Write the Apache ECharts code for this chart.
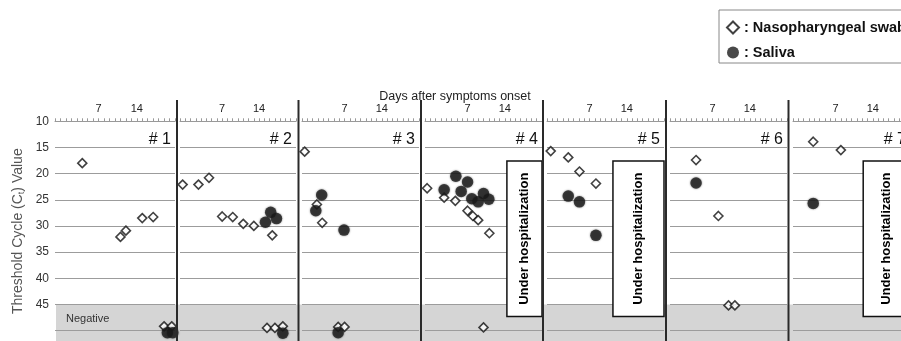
<!DOCTYPE html>
<html><head><meta charset="utf-8">
<script src="https://cdn.jsdelivr.net/npm/echarts@6/dist/echarts.min.js"></script>
<style>html,body{margin:0;padding:0;background:#fff;overflow:hidden}#c{width:930px;height:341px}</style>
</head><body><div id="c"></div>
<script>
// ---- data ----
const panelNames = ['# 1', '# 2', '# 3', '# 4', '# 5', '# 6', '# 7'];
const xTickLabels = [7, 14];
const yTickLabels = [10, 15, 20, 25, 30, 35, 40, 45];
const seriesNames = ['Nasopharyngeal swab', 'Saliva'];

// [day after onset, Ct]; values >= 45 are negative results drawn in the "Negative" band
const swab1 = [[4, 18.0], [11, 32.1], [12, 30.9], [15, 28.5], [17, 28.3], [19, 49.2], [20.4, 49.2]];
const saliva1 = [[19.6, 50.4], [20.6, 50.4]];
const swab2 = [[-0.5, 22.1], [2.5, 22.1], [4.5, 20.8], [7, 28.2], [9, 28.3], [11, 29.6], [13, 30.0], [16.5, 31.8], [15.5, 49.5], [17, 49.5], [18.5, 49.2]];
const saliva2 = [[15.2, 29.3], [16.2, 27.4], [17.3, 28.6], [18.5, 50.5]];
const swab3 = [[-0.5, 15.8], [1.8, 25.9], [2.8, 29.4], [5.8, 49.3], [7, 49.3]];
const saliva3 = [[2.7, 24.1], [1.6, 27.1], [6.9, 30.8], [5.8, 50.4]];
const swab4 = [[-0.6, 22.8], [2.6, 24.6], [4.7, 25.2], [7, 27.1], [8, 28.1], [9, 28.9], [11.1, 31.4], [10, 49.4]];
const saliva4 = [[2.6, 23.1], [4.8, 20.5], [7, 21.6], [5.8, 23.4], [7.8, 24.8], [9, 25.4], [10, 23.8], [11, 24.9]];
const swab5 = [[-0.3, 15.7], [3, 16.9], [5.1, 19.6], [8.2, 21.9]];
const saliva5 = [[3, 24.3], [5.1, 25.4], [8.2, 31.8]];
const swab6 = [[3.9, 17.4], [8.1, 28.1], [10, 45.2], [11.2, 45.2]];
const saliva6 = [[3.9, 21.8]];
const swab7 = [[2.8, 13.9], [8, 15.5]];
const saliva7 = [[2.8, 25.7]];

// start day of the "Under hospitalization" period (null = none shown)
const hospStart = [null, null, null, 14.4, 11.4, null, 12.2];
const hospCt = [17.6, 47.3];
const negativeCutoff = 45;

// ---- layout ----
const swabs = [swab1, swab2, swab3, swab4, swab5, swab6, swab7];
const salivas = [saliva1, saliva2, saliva3, saliva4, saliva5, saliva6, saliva7];
const L = [55, 180, 302, 425, 547, 670, 793];
const W = [120, 116, 117, 117, 117, 117, 117];
const SEP = [177, 298.5, 421, 543, 666, 788.5];
const FONT = '"Liberation Sans", Arial, sans-serif';
const GRID_TOP = 121.3, Y_MIN = 10, Y_MAX = 52, PXU = 5.333;
const CW = 930;

const chart = echarts.init(document.getElementById('c'), null, {renderer: 'canvas'});

const grids = [], xAxes = [], yAxes = [], series = [];
panelNames.forEach((p, i) => {
  grids.push({left: L[i], top: GRID_TOP, width: W[i], height: (Y_MAX - Y_MIN) * PXU});
  xAxes.push({
    type: 'value', gridIndex: i, position: 'top', min: -1, max: 21, interval: 1,
    axisLine: {lineStyle: {color: '#999', width: 1}},
    axisTick: {length: 3, lineStyle: {color: '#999'}},
    axisLabel: {formatter: v => xTickLabels.includes(v) ? String(v) : '', fontSize: 11, color: '#222', margin: 7, fontFamily: FONT},
    splitLine: {show: false}
  });
  const ya = {
    type: 'value', gridIndex: i, inverse: true, min: Y_MIN, max: Y_MAX, interval: 5,
    axisLine: {show: false}, axisTick: {show: false},
    axisLabel: {show: i === 0, formatter: v => yTickLabels.includes(v) ? String(v) : '', fontSize: 12, color: '#333', margin: 6, fontFamily: FONT},
    splitLine: {lineStyle: {color: '#9c9c9c', width: 1}}
  };
  if (i === 0) {
    ya.name = '{a|Threshold Cycle (C}{s|t}{a|) Value}';
    ya.nameLocation = 'middle';
    ya.nameRotate = 90;
    ya.nameGap = 29;
    ya.nameTextStyle = {rich: {
      a: {fontSize: 14, color: '#555', fontFamily: FONT},
      s: {fontSize: 9, color: '#555', fontFamily: FONT, padding: [6, 0, 0, 0]}
    }};
  }
  yAxes.push(ya);
  const sw = {
    name: seriesNames[0], type: 'scatter', xAxisIndex: i, yAxisIndex: i, data: swabs[i],
    symbol: 'diamond', symbolSize: 9,
    itemStyle: {color: '#fff', borderColor: '#111', borderWidth: 1.6},
    z: 3
  };
  if (hospStart[i] !== null) {
    sw.markArea = {
      silent: true,
      itemStyle: {color: '#fff', borderColor: '#111', borderWidth: 1.5},
      label: {show: true, position: 'inside', rotate: 90, formatter: 'Under hospitalization',
        fontSize: 13, fontWeight: 'bold', color: '#000', fontFamily: FONT},
      data: [[{xAxis: hospStart[i], yAxis: hospCt[0]}, {xAxis: 21, yAxis: hospCt[1]}]]
    };
  }
  series.push(sw);
  series.push({
    name: seriesNames[1], type: 'scatter', xAxisIndex: i, yAxisIndex: i, data: salivas[i],
    symbol: 'circle', symbolSize: 11.5,
    itemStyle: {color: '#1c1c1c', shadowBlur: 2, shadowColor: 'rgba(0,0,0,0.6)'},
    z: 4
  });
});

chart.setOption({
  animation: false,
  textStyle: {fontFamily: FONT},
  title: {text: 'Days after symptoms onset', left: 450, textAlign: 'center', top: 85,
    textStyle: {fontSize: 12.5, fontWeight: 'normal', color: '#222', fontFamily: FONT}},
  legend: {
    data: seriesNames, orient: 'vertical', left: 719, top: 10,
    formatter: n => ': ' + n,
    itemWidth: 12, itemHeight: 12, itemGap: 10,
    padding: [10, 10, 3, 7],
    borderColor: '#888', borderWidth: 1,
    textStyle: {fontSize: 14.5, fontWeight: 'bold', color: '#111', fontFamily: FONT}
  },
  grid: grids, xAxis: xAxes, yAxis: yAxes, series: series
});

// ---- decorations positioned via the axes ----
const yNeg = chart.convertToPixel({gridIndex: 0}, [0, negativeCutoff])[1];
const graphics = [];
graphics.push({type: 'rect', z: -10, silent: true,
  shape: {x: L[0] + 1, y: yNeg, width: CW - L[0], height: 341 - yNeg},
  style: {fill: '#d5d5d5'}});
graphics.push({type: 'text', z: 5, silent: true,
  style: {text: 'Negative', x: L[0] + 11, y: yNeg + 15, verticalAlign: 'middle', fontSize: 11, fill: '#333', fontFamily: FONT}});
SEP.forEach(x => {
  graphics.push({type: 'line', z: 10, silent: true,
    shape: {x1: x, y1: 100, x2: x, y2: 341},
    style: {stroke: '#2a2a2a', lineWidth: 2}});
});
const yTitle = chart.convertToPixel({gridIndex: 0}, [0, 13.5])[1];
panelNames.forEach((p, i) => {
  graphics.push({type: 'text', z: 5, silent: true,
    style: {text: p, x: L[i] + W[i] - 4, y: yTitle, align: 'right', verticalAlign: 'middle', fontSize: 16, fill: '#111', fontFamily: FONT}});
});
chart.setOption({graphic: graphics});
</script></body></html>
